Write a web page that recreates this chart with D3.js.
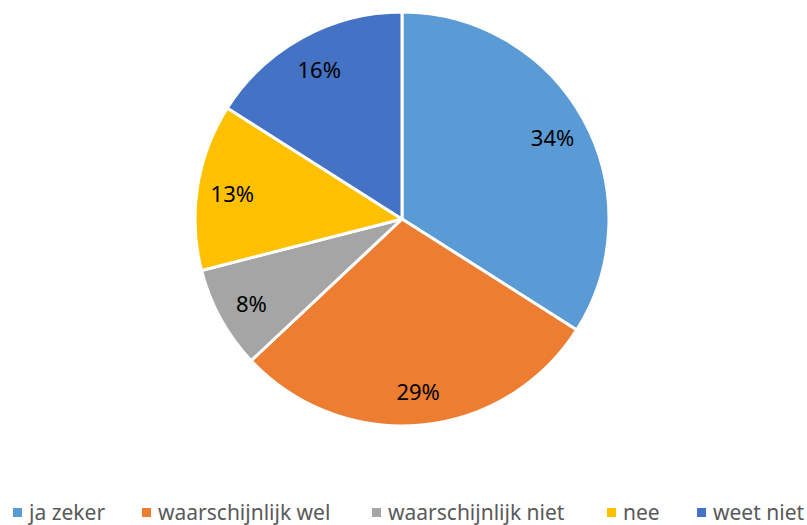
<!DOCTYPE html>
<html>
<head>
<meta charset="utf-8">
<script src="https://cdn.jsdelivr.net/npm/d3@7"></script>
<style>
  body { margin: 0; background: #fff; }
  svg text { font-family: "Noto Sans", "Open Sans", sans-serif; }
</style>
</head>
<body>
<div class="chart"></div>
<script>
// Data
const categories = ["ja zeker", "waarschijnlijk wel", "waarschijnlijk niet", "nee", "weet niet"];
const values = [34, 29, 8, 13, 16];
const colors = ["#5B9BD5", "#ED7D31", "#A5A5A5", "#FFC000", "#4472C4"];

// Measurements
const w = 807;
const h = 525;
const cx = 402;
const cy = 219;
const radius = 207;

const svg = d3
  .select(".chart")
  .append("svg")
  .attr("width", w)
  .attr("height", h);

const data = categories.map((c, i) => ({ name: c, value: values[i], color: colors[i] }));

const pie = d3.pie().value((d) => d.value).sort(null);
const arc = d3.arc().innerRadius(0).outerRadius(radius);
const labelArc = d3.arc().innerRadius(radius * 0.83).outerRadius(radius * 0.83);

const g = svg.append("g").attr("transform", `translate(${cx}, ${cy})`);

// Slices
g.selectAll("path")
  .data(pie(data))
  .enter()
  .append("path")
  .attr("d", arc)
  .attr("fill", (d) => d.data.color)
  .attr("stroke", "#fff")
  .attr("stroke-width", 3)
  .attr("stroke-linejoin", "round");

// Percent labels
g.selectAll("text.label")
  .data(pie(data))
  .enter()
  .append("text")
  .attr("class", "label")
  .attr("transform", (d) => `translate(${labelArc.centroid(d)})`)
  .attr("text-anchor", "middle")
  .attr("dy", "0.45em")
  .attr("font-size", 22)
  .attr("fill", "#000")
  .text((d) => d.data.value + "%");

// Legend
const legendX = [13, 142, 372, 607, 697];
const legend = svg.append("g").attr("class", "legend");

legend
  .selectAll("rect")
  .data(data)
  .enter()
  .append("rect")
  .attr("x", (d, i) => legendX[i])
  .attr("y", 508)
  .attr("width", 9)
  .attr("height", 9)
  .attr("fill", (d) => d.color);

legend
  .selectAll("text")
  .data(data)
  .enter()
  .append("text")
  .attr("x", (d, i) => legendX[i] + 16)
  .attr("y", 520)
  .attr("font-size", 21)
  .attr("fill", "#595959")
  .text((d) => d.name);
</script>
</body>
</html>
